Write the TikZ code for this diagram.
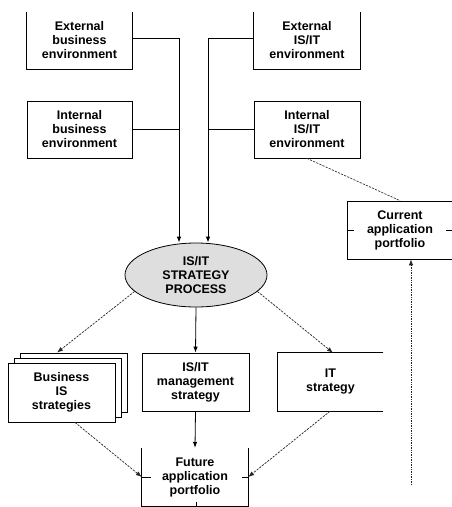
\documentclass[tikz,border=0pt]{standalone}
\usepackage{fontspec}
\setmainfont{Liberation Sans}
\usetikzlibrary{arrows.meta,shapes.geometric,calc}
\begin{document}
\begin{tikzpicture}[x=1pt,y=-1pt,
  txt/.style={font=\fontsize{12.5}{14}\selectfont\bfseries, align=center, inner sep=0pt},
  area/.style 2 args={txt, minimum width=#1, minimum height=#2},
  edge/.style={line width=0.8pt},
  framed/.style={draw, line width=0.8pt},
  arr/.style={edge, -{Latex[length=6pt,width=4.5pt]}},
  dash arr/.style={line width=0.7pt, black!85, dash pattern=on 2.2pt off 1.2pt, -{Latex[length=6pt,width=4.5pt]}},
  dot arr/.style={line width=0.7pt, black!85, dash pattern=on 0.9pt off 0.8pt, -{Latex[length=6pt,width=4.5pt]}},
  dash line/.style={line width=0.7pt, black!80, dash pattern=on 2.2pt off 1.2pt}
]
\useasboundingbox (0,0) rectangle (451,507);
\fill[white] (0,0) rectangle (451,507);

% top boxes (open at top)
\node[area={105}{57}] (extbus) at (79.5,40.5) {External\\business\\environment};
\draw[edge] (extbus.north west) -- (extbus.south west) -- (extbus.south east) -- (extbus.north east);
\node[area={106}{57}] (extit) at (307,40.5) {External\\IS/IT\\environment};
\draw[edge] (extit.north west) -- (extit.south west) -- (extit.south east) -- (extit.north east);

\node[area={105}{57}, framed] (intbus) at (79.5,129.5) {Internal\\business\\environment};
\node[area={106}{57}, framed] (intit) at (307,129.5) {Internal\\IS/IT\\environment};

% process ellipse
\node[ellipse, txt, draw, line width=0.8pt, fill=black!13, minimum width=142pt, minimum height=64pt] (proc) at (196,275) {IS/IT\\STRATEGY\\PROCESS};

% current application portfolio
\node[area={106}{58}, framed] (current) at (400,230) {Current\\application\\portfolio};
\draw[edge] (current.west) -- ++(7,0);
\draw[edge] (current.east) -- ++(-7,0);

% business IS strategies (stack)
\node[area={107}{59}, framed, fill=white] (bisback) at (73.5,382.5) {};
\node[area={107}{59}, framed, fill=white] (bismid) at (67.5,387.5) {};
\node[area={107}{59}, framed, fill=white] (bis) at (61.5,392.5) {Business\\IS\\strategies};

\node[area={107}{58}, framed] (isitm) at (195.5,382) {IS/IT\\management\\strategy};

\node[area={105}{58}] (its) at (330.5,382) {IT\\strategy};
\draw[edge] (its.north east) -- (its.north west) -- (its.south west) -- (its.south east);

% future application portfolio (open at top)
\node[area={106}{58}] (future) at (195,477) {Future\\application\\portfolio};
\draw[edge] (future.north west) -- (future.south west) -- (future.south east) -- (future.north east);
\draw[edge] (future.west) -- ++(9,0);
\draw[edge] (future.east) -- ++(-6,0);
\draw[edge] ([xshift=1pt]future.south) -- ++(0,-4);

% inputs to process
\coordinate (jl) at (179,0);
\coordinate (jr) at (208,0);
\draw[arr] ([yshift=2.5pt]extbus.east) -| ([xshift=-17pt]proc.north);
\draw[edge] (intbus.east) -- (intbus.east -| jl);
\draw[arr] ([yshift=2.5pt]extit.west) -| ([xshift=12pt]proc.north);
\draw[edge] (intit.west) -- (intit.west -| jr);

% process outputs
\draw[dash arr] (proc.195) -- ([xshift=-16.5pt]bisback.north);
\draw[arr] (proc.south) -- (isitm.north);
\draw[dash arr] (proc.-15) -- ([xshift=2.5pt]its.north);

% to future
\draw[dash arr] ([xshift=13.5pt]bis.south) -- (future.west);
\draw[arr] (isitm.south) -- (future.north);
\draw[dash arr] ([xshift=-0.5pt]its.south) -- (future.east);

% current portfolio links
\draw[dash line] (intit.south) -- (current.north);
\coordinate (cpb) at (411,485);
\draw[dot arr] (cpb) -- (cpb |- current.south);
\end{tikzpicture}
\end{document}
